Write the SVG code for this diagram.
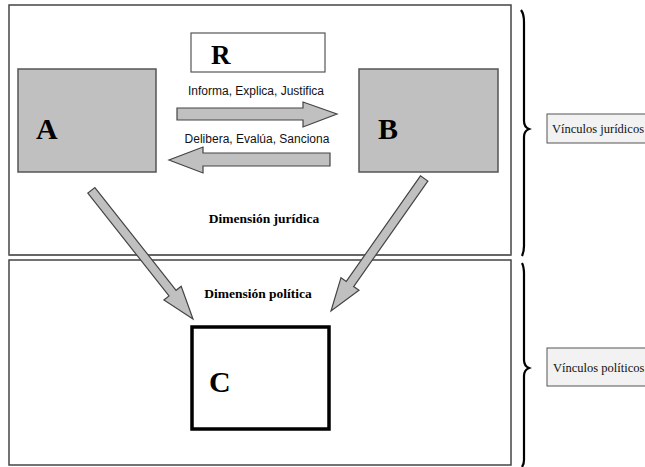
<svg xmlns="http://www.w3.org/2000/svg" width="645" height="467" viewBox="0 0 645 467">
<style>
.frame{fill:#fff;stroke:#444;stroke-width:1.5}
.actor{fill:#c0c0c0;stroke:#555;stroke-width:1.5}
.arrow{fill:#c0c0c0;stroke:#444;stroke-width:1.2;stroke-linejoin:miter}
.big{font-family:"Liberation Serif",serif;font-weight:bold;font-size:30px;fill:#000}
.sans{font-family:"Liberation Sans",sans-serif;font-size:12px;fill:#111}
.dim{font-family:"Liberation Serif",serif;font-weight:bold;font-size:13.5px;fill:#000}
.lab{fill:#f2f2f2;stroke:#555;stroke-width:1}
.labt{font-family:"Liberation Serif",serif;font-size:12.5px;fill:#111}
.brace{fill:none;stroke:#000;stroke-width:2.2}
</style>
<rect width="645" height="467" fill="#fff"/>
<g id="dimension-juridica">
<rect class="frame" x="9" y="5" width="502" height="250"/>
<line x1="9" y1="255" x2="511" y2="255" stroke="#666" stroke-width="2"/>
<text class="dim" x="264" y="223" text-anchor="middle">Dimensión jurídica</text>
</g>
<g id="dimension-politica">
<rect class="frame" x="9" y="260" width="502" height="205"/>
<text class="dim" x="258" y="298" text-anchor="middle">Dimensión política</text>
</g>
<g id="node-R">
<rect x="191" y="33" width="134" height="39" fill="#fff" stroke="#555" stroke-width="1.2"/>
<text x="211" y="64" font-family="Liberation Serif,serif" font-weight="bold" font-size="27" fill="#000">R</text>
</g>
<g id="node-A">
<rect class="actor" x="18" y="69" width="138" height="103"/>
<text class="big" x="36" y="139">A</text>
</g>
<g id="node-B">
<rect class="actor" x="359" y="69" width="139" height="103"/>
<text class="big" x="378" y="139">B</text>
</g>
<g id="node-C">
<rect x="192" y="327" width="137" height="102" fill="#fff" stroke="#000" stroke-width="3.5"/>
<text class="big" x="209" y="392">C</text>
</g>
<g id="connectors">
<polygon class="arrow" points="177,108 303,108 303,102 337,114 303,127 303,120 177,120"/>
<text class="sans" x="256" y="95" text-anchor="middle">Informa, Explica, Justifica</text>
<polygon class="arrow" points="330,153 203,153 203,147 169,160 203,173 203,166 330,166"/>
<text class="sans" x="257" y="143" text-anchor="middle">Delibera, Evalúa, Sanciona</text>
<g transform="translate(193,319) rotate(51.7)">
<polygon class="arrow" points="-164,-4.5 -33,-4.5 -33,-11 0,0 -33,11 -33,4.5 -164,4.5"/>
</g>
<g transform="translate(331,311) rotate(125.1)">
<polygon class="arrow" points="-162,-4.5 -33,-4.5 -33,-11 0,0 -33,11 -33,4.5 -162,4.5"/>
</g>
</g>
<g id="brace-juridicos">
<path class="brace" d="M521,10 Q524,14 524,22 L524,121 Q524,127 529,129 Q524,131 524,137 L524,246 Q524,252 522,256"/>
</g>
<g id="brace-politicos">
<path class="brace" d="M522,263 Q524,267 524,274 L524,360 Q524,366 529,368 Q524,370 524,376 L524,460 Q524,464 522,467"/>
</g>
<g id="label-juridicos">
<rect class="lab" x="547" y="114" width="110" height="29"/>
<text class="labt" x="552" y="133">Vínculos jurídicos</text>
</g>
<g id="label-politicos">
<rect class="lab" x="547" y="348" width="110" height="38"/>
<text class="labt" x="553" y="372">Vínculos políticos</text>
</g>
</svg>
